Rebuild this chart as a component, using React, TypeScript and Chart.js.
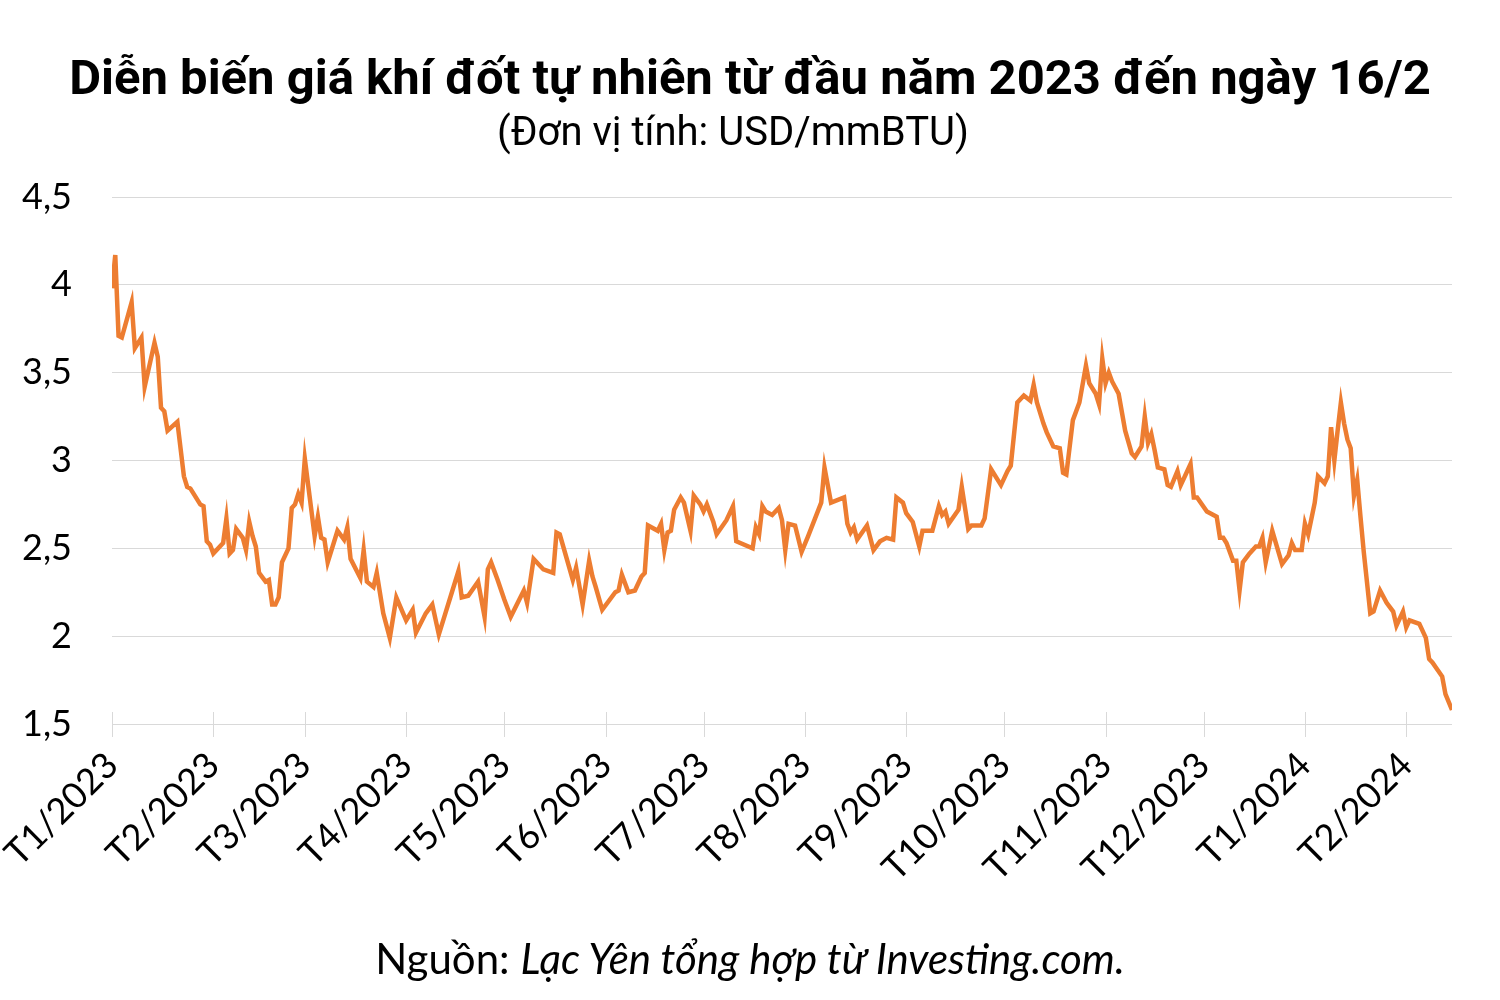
import React, { useEffect, useRef } from "react";
import { Chart, registerables } from "chart.js";

Chart.register(...registerables);

// Day offsets since 1 Jan 2023
const days = [
  0, 1, 2, 3, 6, 7, 9, 10, 13, 14, 15, 16, 17, 20, 22, 23, 24, 27, 28, 29, 30, 31,
  34, 35, 36, 37, 38, 40, 41, 42, 43, 44, 45, 47, 48, 49, 50, 51, 52, 54, 55, 56, 57, 58, 59,
  62, 63, 64, 65, 66, 69, 71, 72, 73, 76, 77, 78, 80, 81, 83, 85, 87, 90, 92, 93, 96, 98,
  100, 102, 104, 106, 107, 109, 112, 114, 115, 116, 118, 120, 122, 126, 127, 129, 132, 135,
  136, 137, 141, 142, 144, 146, 147, 148, 150, 154, 155, 156, 158, 160, 162, 163, 164, 167,
  168, 169, 170, 171, 172, 174, 175, 177, 178, 180, 181, 182, 184, 185, 188, 190, 191, 196,
  197, 198, 199, 200, 202, 204, 205, 206, 207, 209, 211, 213, 217, 218, 220, 224, 225, 226,
  227, 228, 231, 233, 235, 237, 239, 240, 242, 243, 245, 247, 248, 251, 253, 254, 255, 256,
  259, 260, 262, 263, 266, 267, 269, 272, 274, 275, 277, 279, 281, 282, 283, 285, 286, 288,
  290, 291, 292, 294, 296, 298, 299, 301, 302, 303, 304, 305, 306, 308, 310, 312, 313, 315,
  316, 317, 318, 319, 320, 322, 323, 324, 326, 327, 330, 331, 332, 335, 338, 339, 340, 341,
  343, 344, 345, 346, 348, 350, 351, 352, 353, 355, 358, 360, 361, 362, 364, 365, 366, 368,
  369, 371, 372, 373, 374, 375, 376, 377, 378, 379, 380, 381, 382, 383, 385, 386, 388, 390,
  392, 393, 395, 396, 397, 400, 402, 403, 404, 407, 408, 410,
];

// Price in USD/mmBTU
const prices = [
  3.98, 4.17, 3.71, 3.7, 3.9, 3.64, 3.7, 3.42, 3.67, 3.59, 3.3, 3.28, 3.17, 3.22, 2.91, 2.85, 2.84, 2.75, 2.74, 2.54, 2.52, 2.47,
  2.53, 2.67, 2.47, 2.49, 2.61, 2.56, 2.49, 2.65, 2.57, 2.51, 2.36, 2.31, 2.32, 2.18, 2.18, 2.22, 2.42, 2.5, 2.73, 2.75, 2.81, 2.76, 3.01,
  2.57, 2.68, 2.56, 2.55, 2.42, 2.6, 2.55, 2.62, 2.44, 2.33, 2.49, 2.31, 2.28, 2.36, 2.13, 1.99, 2.22, 2.09, 2.15, 2.02, 2.13, 2.18,
  2.01, 2.13, 2.25, 2.37, 2.22, 2.23, 2.31, 2.11, 2.38, 2.42, 2.32, 2.21, 2.11, 2.26, 2.19, 2.44, 2.38, 2.36,
  2.59, 2.58, 2.32, 2.39, 2.18, 2.43, 2.34, 2.28, 2.15, 2.25, 2.26, 2.35, 2.25, 2.26, 2.34, 2.36, 2.63, 2.6,
  2.64, 2.49, 2.59, 2.6, 2.72, 2.79, 2.76, 2.6, 2.8, 2.75, 2.71, 2.75, 2.65, 2.58, 2.66, 2.74, 2.54, 2.5,
  2.62, 2.58, 2.74, 2.71, 2.69, 2.73, 2.66, 2.49, 2.64, 2.63, 2.48, 2.57, 2.76, 2.96, 2.76, 2.79, 2.64, 2.59,
  2.62, 2.55, 2.63, 2.49, 2.54, 2.56, 2.55, 2.79, 2.76, 2.7, 2.65, 2.51, 2.6, 2.6, 2.74, 2.69, 2.71, 2.64,
  2.72, 2.85, 2.61, 2.63, 2.63, 2.67, 2.95, 2.86, 2.94, 2.97, 3.33, 3.37, 3.34, 3.43, 3.33, 3.21, 3.16, 3.08,
  3.07, 2.93, 2.92, 3.23, 3.33, 3.54, 3.44, 3.38, 3.32, 3.58, 3.44, 3.5, 3.45, 3.38, 3.17, 3.04, 3.02, 3.08,
  3.25, 3.1, 3.15, 3.06, 2.96, 2.95, 2.86, 2.85, 2.94, 2.86, 2.98, 2.79, 2.79, 2.71, 2.68, 2.56, 2.56, 2.53,
  2.43, 2.43, 2.26, 2.42, 2.47, 2.51, 2.51, 2.56, 2.42, 2.6, 2.41, 2.46, 2.53, 2.49, 2.49, 2.64, 2.58, 2.76,
  2.91, 2.87, 2.91, 3.19, 3.0, 3.17, 3.33, 3.21, 3.12, 3.07, 2.8, 2.89, 2.68, 2.48, 2.13, 2.14, 2.26, 2.19,
  2.14, 2.06, 2.14, 2.05, 2.09, 2.07, 1.99, 1.87, 1.85, 1.77, 1.67, 1.58,
];

// Month starts (day offsets) and their labels
const monthStarts = [0, 31, 59, 90, 120, 151, 181, 212, 243, 273, 304, 334, 365, 396];
const monthLabels = [
  "T1/2023", "T2/2023", "T3/2023", "T4/2023", "T5/2023", "T6/2023", "T7/2023",
  "T8/2023", "T9/2023", "T10/2023", "T11/2023", "T12/2023", "T1/2024", "T2/2024",
];

const yTicks = [1.5, 2, 2.5, 3, 3.5, 4, 4.5];

const title = "Diễn biến giá khí đốt tự nhiên từ đầu năm 2023 đến ngày 16/2";
const subtitle = "(Đơn vị tính: USD/mmBTU)";

const crossTicks = {
  id: "crossTicks",
  beforeDatasetsDraw(chart: any) {
    const xs = chart.scales.x;
    const bottom = chart.chartArea.bottom;
    const ctx = chart.ctx;
    ctx.save();
    ctx.strokeStyle = "#d9d9d9";
    ctx.lineWidth = 1;
    ctx.beginPath();
    monthStarts.forEach((d) => {
      const px = Math.round(xs.getPixelForValue(d)) + 0.5;
      ctx.moveTo(px, bottom - 12);
      ctx.lineTo(px, bottom + 13);
    });
    ctx.stroke();
    ctx.restore();
  },
};

export default function App() {
  const ref = useRef<HTMLCanvasElement | null>(null);

  useEffect(() => {
    if (!ref.current) return;
    const chart = new Chart(ref.current, {
      type: "line",
      data: {
        datasets: [
          {
            data: days.map((d, i) => ({ x: d, y: prices[i] })),
            borderColor: "#ED7D31",
            borderWidth: 4.5,
            pointRadius: 0,
            tension: 0,
            fill: false,
          },
        ],
      },
      options: {
        animation: false,
        responsive: false,
        layout: { padding: { top: 197, right: 48, bottom: 0, left: 0 } },
        plugins: { legend: { display: false }, tooltip: { enabled: false } },
        scales: {
          x: {
            type: "linear",
            min: 0,
            max: 410,
            grid: { display: false },
            border: { display: false },
            afterBuildTicks: (scale: any) => {
              scale.ticks = monthStarts.map((v) => ({ value: v }));
            },
            afterFit: (scale: any) => {
              scale.height = 276;
              scale.paddingLeft = 0;
              scale.paddingRight = 0;
            },
            ticks: {
              autoSkip: false,
              minRotation: 45,
              maxRotation: 45,
              padding: 12,
              color: "#000",
              font: { family: "Lato", size: 36 },
              callback: (v: any) => {
                const i = monthStarts.indexOf(Number(v));
                return i >= 0 ? monthLabels[i] : "";
              },
            },
          },
          y: {
            min: 1.5,
            max: 4.5,
            afterBuildTicks: (scale: any) => {
              scale.ticks = yTicks.map((v) => ({ value: v }));
            },
            afterFit: (scale: any) => {
              scale.width = 112;
            },
            grid: { color: "#d9d9d9", lineWidth: 1, drawTicks: false },
            border: { display: false },
            ticks: {
              padding: 40,
              color: "#000",
              font: { family: "Lato", size: 36 },
              callback: (v: any) => String(v).replace(".", ","),
            },
          },
        },
      },
      plugins: [crossTicks],
    });
    return () => chart.destroy();
  }, []);

  return (
    <div style={{ position: "absolute", left: 0, top: 0, width: 1500, height: 1000, background: "#fff", overflow: "hidden" }}>
      <canvas ref={ref} width={1500} height={1000} style={{ position: "absolute", left: 0, top: 0, width: 1500, height: 1000 }} />
      <div style={{ position: "absolute", left: 0, width: 1500, top: 49, textAlign: "center", fontFamily: "Roboto", fontWeight: 700, fontSize: 49, lineHeight: "58px", color: "#000" }}>
        {title}
      </div>
      <div style={{ position: "absolute", left: -17, width: 1500, top: 109, textAlign: "center", fontFamily: "Roboto", fontSize: 40, lineHeight: "46px", color: "#000" }}>
        {subtitle}
      </div>
      <div style={{ position: "absolute", left: 0, width: 1500, top: 933, textAlign: "center", fontFamily: "Lato", fontSize: 42, lineHeight: "50px", color: "#000" }}>
        Nguồn: <i>Lạc Yên tổng hợp từ Investing.com.</i>
      </div>
    </div>
  );
}
